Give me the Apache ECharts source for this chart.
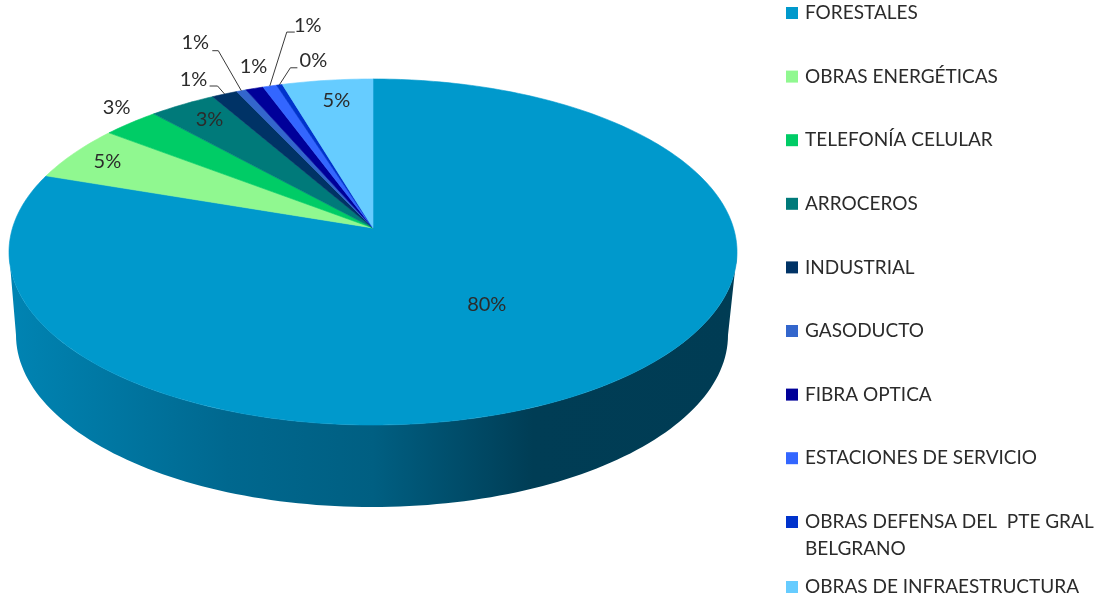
<!DOCTYPE html>
<html>
<head>
<meta charset="utf-8">
<style>html,body{margin:0;padding:0;background:#fff}#c{width:1094px;height:597px}</style>
<script src="https://cdn.jsdelivr.net/npm/echarts@6/dist/echarts.min.js"></script>
</head>
<body>
<div id="c"></div>
<script>
var categories = ['FORESTALES','OBRAS ENERGÉTICAS','TELEFONÍA CELULAR','ARROCEROS','INDUSTRIAL','GASODUCTO','FIBRA OPTICA','ESTACIONES DE SERVICIO','OBRAS DEFENSA DEL  PTE GRAL\nBELGRANO','OBRAS DE INFRAESTRUCTURA'];
var shares = [80.2,5.2,2.9,3.4,1.3,0.5,0.9,0.7,0.3,4.6];
var colors = ['#0099CC','#90F890','#00CC66','#007A7A','#003366','#3366CC','#000099','#3366FF','#0033CC','#66CCFF'];
// label offsets from each slice's rim midpoint
var labelOffsets = [[-123,-79],[33,9],[-14,-15],[27,15],[-31,-14],[-46,-48],[-1,-22],[38,-61],[34,-24],[9,20]];
// leader line: elbow dx,dy then end dx,dy from the rim midpoint
var leaders = [null,null,null,null,[-7,-8,-15,-8],[-23,-40,-29,-40],null,[17,-54,25,-54],[11,-17,18,-17],null];

var FONT = 'Lato, "Noto Sans", sans-serif';
var TEXT = '#2b2b2b';
// perspective of the pie's top face
var apex = {x:373,y:228}, pa = 360.5, pb = 169.7, pk = -0.1387;
var total = shares.reduce(function(a,b){return a+b;},0);
function rim(t){ // t = clockwise fraction from 12 o'clock
  var th = t*2*Math.PI, u = Math.sin(th), v = -Math.cos(th), d = 1+pk*v;
  return [apex.x+pa*u/d, apex.y+pb*v/d];
}
function wallPoints(){
  var pts=[],i,n=120;
  for(i=0;i<=n;i++){var f=Math.PI*i/n;pts.push([373+364*Math.cos(f),252+173*Math.sin(f)]);}
  for(i=n;i>=0;i--){var g=Math.PI*i/n;pts.push([372+356*Math.cos(g),335+172*Math.sin(g)]);}
  return pts;
}
var series = categories.map(function(name,idx){
  var start = shares.slice(0,idx).reduce(function(a,b){return a+b;},0)/total;
  return {
    type:'custom', name:name, coordinateSystem:'none', silent:true, animation:false,
    itemStyle:{color:colors[idx]},
    data:[shares[idx]],
    z: 2+idx,
    renderItem:function(params,api){
      var frac = api.value(0)/total, pts=[[apex.x,apex.y]], n=Math.max(2,Math.ceil(frac*360)), i;
      for(i=0;i<=n;i++) pts.push(rim(start+frac*i/n));
      var children=[];
      if(idx===0){
        children.push({type:'polygon',shape:{points:wallPoints()},style:{
          fill:{type:'linear',x:0,y:0,x2:1,y2:0,colorStops:[
            {offset:0,color:'#0084B3'},{offset:0.3,color:'#00688F'},{offset:0.5,color:'#005F82'},
            {offset:0.72,color:'#003D55'},{offset:1,color:'#003C54'}]}}});
      }
      children.push({type:'polygon',shape:{points:pts},style:{fill:colors[idx],stroke:colors[idx],lineWidth:0.6}});
      var anchor = rim(start+frac/2), off = labelOffsets[idx], lead = leaders[idx];
      if(lead){
        children.push({type:'polyline',shape:{points:[anchor,[anchor[0]+lead[0],anchor[1]+lead[1]],[anchor[0]+lead[2],anchor[1]+lead[3]]]},
          style:{fill:null,stroke:'#3a3a3a',lineWidth:1}});
      }
      children.push({type:'text',z2:50,style:{x:anchor[0]+off[0],y:anchor[1]+off[1],text:Math.round(api.value(0))+'%',
        font:'20px '+FONT,fill:TEXT,align:'center',verticalAlign:'middle'}});
      return {type:'group',children:children};
    }
  };
});
function legendOf(names,top,extra){
  return Object.assign({
    orient:'vertical',left:786,top:top,padding:0,itemWidth:12,itemHeight:12,icon:'rect',selectedMode:false,
    data:names,textStyle:{fontFamily:FONT,fontSize:19,color:TEXT,lineHeight:24,padding:[0,0,0,2]}
  },extra||{});
}
var option = {
  backgroundColor:'#fff',
  animation:false,
  legend:[
    legendOf(categories.slice(0,8),1,{itemGap:39.6}),
    legendOf([categories[8]],508.5,{itemHeight:54,textStyle:{fontFamily:FONT,fontSize:19,color:TEXT,lineHeight:27,padding:[0,0,0,2]},
      data:[{name:categories[8],icon:'path://M0 7.5H12V19.5H0Z M0 0L12 0 M0 54L12 54'}]}),
    legendOf([categories[9]],575)
  ],
  series:series
};
echarts.init(document.getElementById('c'),null,{renderer:'canvas'}).setOption(option);
</script>
</body>
</html>
